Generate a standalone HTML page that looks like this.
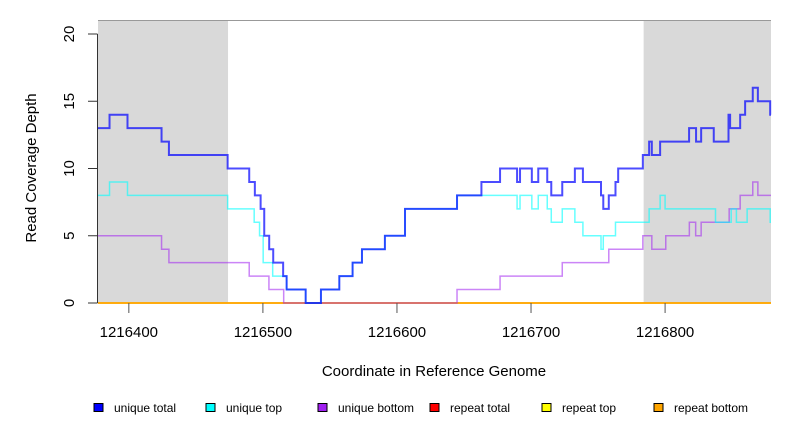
<!DOCTYPE html>
<html><head><meta charset="utf-8"><style>
body{margin:0;background:#fff;}
svg{display:block;font-family:"Liberation Sans",sans-serif;}
</style></head><body>
<svg id="chart" width="792" height="432" viewBox="0 0 792 432">
<g id="bg"></g><g id="series"></g><g id="axes"></g><g id="legend"></g>
</svg>
<script>
const xTicks=[1216400,1216500,1216600,1216700,1216800];
const yTicks=[0,5,10,15,20];
const shaded=[[1216377,1216474],[1216784,1216879]];
const totalX=[1216377,1216385.6,1216399,1216424.4,1216429.9,1216473.7,1216489.8,1216494,1216498.3,1216501,1216504.7,1216507.7,1216515.1,1216517.7,1216531.9,1216543.3,1216557,1216566.9,1216573.9,1216591,1216606,1216644.8,1216663,1216676.9,1216689.6,1216691.8,1216700.6,1216705.4,1216712.1,1216715.1,1216723.3,1216732.7,1216738.7,1216752.2,1216753.9,1216758,1216763,1216765,1216783.4,1216788.1,1216790.1,1216796.3,1216817.9,1216823.1,1216826.9,1216836.3,1216847.3,1216848.5,1216852.2,1216856,1216859.7,1216865.4,1216869.2,1216878.4];
const totalV=[13,14,13,12,11,10,9,8,7,5,4,3,2,1,0,1,2,3,4,5,7,8,9,10,9,10,9,10,9,8,9,10,9,8,7,8,9,10,11,12,11,12,13,12,13,12,14,13,13,14,15,16,15,14];
const topX=[1216377,1216385.6,1216399,1216473.7,1216493.5,1216497.5,1216500.2,1216507.3,1216517.7,1216531.9,1216543.3,1216557,1216566.9,1216573.9,1216591,1216606,1216644.8,1216689.6,1216691.8,1216700.6,1216705.4,1216712.1,1216715.1,1216723.3,1216732.7,1216738.7,1216752.2,1216753.9,1216763,1216765,1216788.1,1216796.3,1216800,1216837.6,1216849.3,1216853.2,1216861.2,1216878.4];
const topV=[8,9,8,7,6,5,3,2,1,0,1,2,3,4,5,7,8,7,8,7,8,7,6,7,6,5,4,5,6,6,7,8,7,6,7,6,7,6];
const botX=[1216377,1216424.4,1216429.9,1216489.8,1216504.5,1216515.5,1216644.8,1216676.9,1216723.3,1216758,1216783.4,1216790.1,1216800.5,1216818.1,1216822.8,1216826.9,1216847.8,1216856,1216865.4,1216869.2];
const botV=[5,4,3,2,1,0,1,2,3,4,5,4,5,6,5,6,7,8,9,8];
const legendLabels=["unique total","unique top","unique bottom","repeat total","repeat top","repeat bottom"];
const legendColors=["#0000ff","#00ffff","#a020f0","#ff0000","#ffff00","#ffa500"];

const X0=1216377,X1=1216879,PX0=98,PX1=771;
const sx=v=>PX0+(v-X0)*(PX1-PX0)/(X1-X0);
const sy=v=>303-v*13.45;
const NS="http://www.w3.org/2000/svg";
function mk(tag,attrs,parent){const e=document.createElementNS(NS,tag);for(const k in attrs)e.setAttribute(k,attrs[k]);parent.appendChild(e);return e;}
const bg=document.getElementById('bg'),ser=document.getElementById('series'),ax=document.getElementById('axes'),lg=document.getElementById('legend');
shaded.forEach((r,i)=>{const e=mk('rect',{x:sx(r[0]),y:sy(21),width:sx(r[1])-sx(r[0]),height:sy(0)-sy(21),fill:'#d9d9d9'},bg);

});
const topLine=mk('line',{x1:PX0,x2:PX1,y1:sy(21),y2:sy(21),stroke:'#999','stroke-width':1},bg);


function step(xs,vs,end){let d='M'+sx(xs[0])+' '+sy(vs[0]);for(let i=1;i<xs.length;i++){d+=' H'+sx(xs[i])+' V'+sy(vs[i]);}d+=' H'+sx(end);return d;}
const zeroX=[X0],zeroV=[0];
[["repeat-total-line",zeroX,zeroV,"#ff0000",1.5,1],["repeat-top-line",zeroX,zeroV,"#ffff00",1.5,1],["repeat-bottom-line",zeroX,zeroV,"#ffa500",1.5,1]].forEach(s=>{
const p=mk('path',{d:step(s[1],s[2],X1),fill:'none',stroke:s[3],'stroke-width':s[4],opacity:s[5]},ser);

});
[["unique-bottom-line",botX,botV,"#a020f0",1.5,0.55],["unique-top-line",topX,topV,"#00ffff",1.5,0.6],["unique-total-line",totalX,totalV,"#0000ff",2,0.7]].forEach(s=>{
const p=mk('path',{d:step(s[1],s[2],X1),fill:'none',stroke:s[3],'stroke-width':s[4],opacity:s[5]},ser);

});
const yl=mk('line',{x1:97.5,x2:97.5,y1:sy(0),y2:sy(20),stroke:'#333'},ax);


yTicks.forEach(v=>{const t=mk('line',{x1:88,x2:97.5,y1:sy(v),y2:sy(v),stroke:'#333'},ax);


const l=mk('text',{x:0,y:0,transform:`translate(74,${sy(v)}) rotate(-90)`,'text-anchor':'middle','font-size':15,fill:'#000'},ax);l.textContent=v;

});
xTicks.forEach(v=>{const t=mk('line',{x1:sx(v),x2:sx(v),y1:303,y2:313,stroke:'#555'},ax);


const l=mk('text',{x:sx(v),y:337,'text-anchor':'middle','font-size':15,fill:'#000'},ax);l.textContent=v;

});
const xt=mk('text',{x:434,y:376,'text-anchor':'middle','font-size':15},ax);xt.textContent='Coordinate in Reference Genome';


const yt=mk('text',{x:0,y:0,transform:'translate(36,168) rotate(-90)','text-anchor':'middle','font-size':15},ax);yt.textContent='Read Coverage Depth';


legendLabels.forEach((lab,i)=>{const x=94+i*112;
const g=mk('g',{},lg);


mk('rect',{x:x,y:403.5,width:9,height:8,fill:legendColors[i],stroke:'#000','stroke-width':1},g);
const t=mk('text',{x:x+20,y:412,'font-size':12},g);t.textContent=lab;});
</script>
</body></html>
